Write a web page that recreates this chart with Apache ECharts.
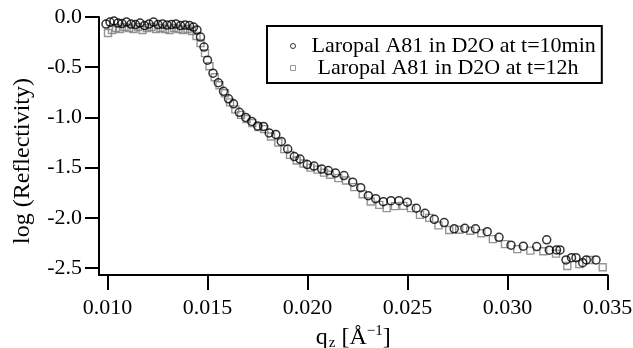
<!DOCTYPE html>
<html><head><meta charset="utf-8">
<script src="https://cdn.jsdelivr.net/npm/echarts@6/dist/echarts.min.js"></script>
<style>html,body{margin:0;padding:0;background:#fff}#c{width:633px;height:348px}</style>
</head><body><div id="c"></div>
<script>
const seriesNames = ['Laropal A81 in D2O at t=10min', 'Laropal A81 in D2O at t=12h'];
const xTicks = [0.010, 0.015, 0.020, 0.025, 0.030, 0.035];
const yTicks = [0.0, -0.5, -1.0, -1.5, -2.0, -2.5];

const qCircles = [0.009925,0.010125,0.010325,0.010525,0.010725,0.01095,0.011175,0.0114,0.011625,0.01185,0.012075,0.0123,0.012525,0.01275,0.012975,0.0132,0.013425,0.01365,0.013875,0.0141,0.0143,0.014475,0.01465,0.014825,0.015,0.015275,0.01554,0.0158,0.01605,0.0163,0.01659,0.01691,0.01721,0.01751,0.0178,0.018085,0.018415,0.01869,0.01901,0.01934,0.019625,0.01999,0.020325,0.02071,0.02104,0.0214,0.021825,0.02226,0.02266,0.02304,0.02341,0.02379,0.024175,0.024575,0.02499,0.02544,0.025875,0.02634,0.026835,0.027335,0.027865,0.0284,0.028985,0.029575,0.030175,0.03079,0.03146,0.03196,0.03209,0.03245,0.032625,0.032925,0.0332,0.033425,0.03376,0.03394,0.034425];
const logRCircles = [-0.07,-0.05,-0.04,-0.06,-0.065,-0.05,-0.07,-0.075,-0.06,-0.085,-0.07,-0.05,-0.075,-0.07,-0.08,-0.075,-0.07,-0.085,-0.08,-0.085,-0.10,-0.13,-0.20,-0.30,-0.43,-0.56,-0.655,-0.74,-0.815,-0.865,-0.95,-1.0,-1.04,-1.085,-1.09,-1.155,-1.17,-1.24,-1.315,-1.39,-1.415,-1.47,-1.485,-1.515,-1.53,-1.555,-1.58,-1.645,-1.70,-1.78,-1.81,-1.84,-1.83,-1.83,-1.845,-1.905,-1.955,-2.015,-2.048,-2.11,-2.105,-2.11,-2.138,-2.195,-2.273,-2.283,-2.287,-2.22,-2.323,-2.32,-2.32,-2.42,-2.397,-2.397,-2.447,-2.42,-2.42];

const qSquares = [0.010025,0.010225,0.010425,0.010625,0.01085,0.011075,0.0113,0.011525,0.01175,0.011975,0.0122,0.012425,0.01265,0.012875,0.0131,0.013325,0.01355,0.013775,0.014,0.014225,0.01445,0.01465,0.014875,0.0151,0.01536,0.0156,0.015875,0.016125,0.01639,0.016675,0.01696,0.01724,0.01754,0.01784,0.018175,0.01854,0.01884,0.019125,0.01946,0.0198,0.02015,0.0205,0.020825,0.021125,0.02154,0.021925,0.02234,0.02276,0.02316,0.02359,0.02396,0.024375,0.02479,0.025175,0.025625,0.026085,0.02655,0.027085,0.027585,0.02814,0.02869,0.029265,0.029875,0.03049,0.03114,0.03179,0.032425,0.03299,0.03359,0.034125,0.03476];
const logRSquares = [-0.16,-0.13,-0.11,-0.12,-0.10,-0.11,-0.12,-0.10,-0.13,-0.11,-0.10,-0.12,-0.11,-0.12,-0.13,-0.11,-0.12,-0.13,-0.12,-0.14,-0.19,-0.26,-0.36,-0.49,-0.60,-0.68,-0.76,-0.85,-0.92,-0.975,-1.017,-1.057,-1.097,-1.117,-1.19,-1.25,-1.316,-1.373,-1.43,-1.46,-1.50,-1.52,-1.55,-1.572,-1.605,-1.629,-1.695,-1.765,-1.838,-1.871,-1.904,-1.884,-1.881,-1.904,-1.971,-2.001,-2.076,-2.121,-2.119,-2.129,-2.154,-2.213,-2.262,-2.312,-2.327,-2.333,-2.357,-2.48,-2.462,-2.42,-2.493];

const FONT = '"Liberation Serif","Times New Roman",serif';
const chart = echarts.init(document.getElementById('c'), null, {renderer: 'canvas'});
const pairs = (xs, ys) => xs.map((x, i) => [x, ys[i]]);

chart.setOption({
  animation: false,
  backgroundColor: '#fff',
  grid: {left: 99, right: 25.5, top: 17, bottom: 73, containLabel: false, outerBoundsMode: 'none'},
  xAxis: {
    type: 'value', min: 0.009575, max: 0.035,
    name: '{n|q}{sub|z}{n| [Å}{sup|−1}{n|]}',
    nameLocation: 'middle', nameGap: 41,
    nameTextStyle: {
      rich: {
        n: {fontFamily: FONT, fontSize: 24, color: '#000'},
        sub: {fontFamily: FONT, fontSize: 15, color: '#000', padding: [12, 0, 0, 1]},
        sup: {fontFamily: FONT, fontSize: 15, color: '#000', padding: [0, 0, 12, 0]}
      }
    },
    axisLine: {show: true, onZero: false, lineStyle: {color: '#000', width: 2}},
    axisTick: {show: true, length: 15, lineStyle: {color: '#000', width: 2}, customValues: xTicks},
    axisLabel: {customValues: xTicks, margin: 22, fontFamily: FONT, fontSize: 22, color: '#000',
      formatter: v => v.toFixed(3)},
    splitLine: {show: false}
  },
  yAxis: {
    type: 'value', min: -2.57, max: 0,
    axisLine: {show: true, onZero: false, lineStyle: {color: '#000', width: 2}},
    axisTick: {show: true, length: 14, lineStyle: {color: '#000', width: 2}, customValues: yTicks},
    axisLabel: {customValues: yTicks, margin: 17, fontFamily: FONT, fontSize: 22, color: '#000',
      formatter: v => v.toFixed(1)},
    splitLine: {show: false}
  },
  legend: {
    orient: 'vertical', left: 267, top: 26,
    borderColor: '#000', borderWidth: 2, backgroundColor: '#fff',
    padding: [9, 6, 4, 23],
    itemWidth: 5, itemHeight: 5, itemGap: 0,
    textStyle: {fontFamily: FONT, fontSize: 22, color: '#000', lineHeight: 21, padding: [0, 0, 0, 11]},
    data: [
      {name: seriesNames[0], icon: 'circle', itemStyle: {color: 'rgba(0,0,0,0)', borderColor: '#000', borderWidth: 1}},
      {name: seriesNames[1], icon: 'rect', itemStyle: {color: 'rgba(0,0,0,0)', borderColor: '#808080', borderWidth: 1}, textStyle: {padding: [0, 0, 0, 17]}}
    ]
  },
  graphic: [{
    type: 'text', x: 23, y: 161, rotation: Math.PI / 2,
    style: {text: 'log (Reflectivity)', font: '24px ' + FONT, fill: '#000', align: 'center', verticalAlign: 'middle'}
  }],
  series: [
    {name: seriesNames[1], type: 'scatter', symbol: 'rect', symbolSize: 7,
     itemStyle: {color: 'rgba(0,0,0,0)', borderColor: '#7a7a7a', borderWidth: 1.4},
     data: pairs(qSquares, logRSquares)},
    {name: seriesNames[0], type: 'scatter', symbol: 'circle', symbolSize: 8,
     itemStyle: {color: 'rgba(0,0,0,0)', borderColor: '#000', borderWidth: 1.5},
     data: pairs(qCircles, logRCircles)}
  ]
});
</script></body></html>
